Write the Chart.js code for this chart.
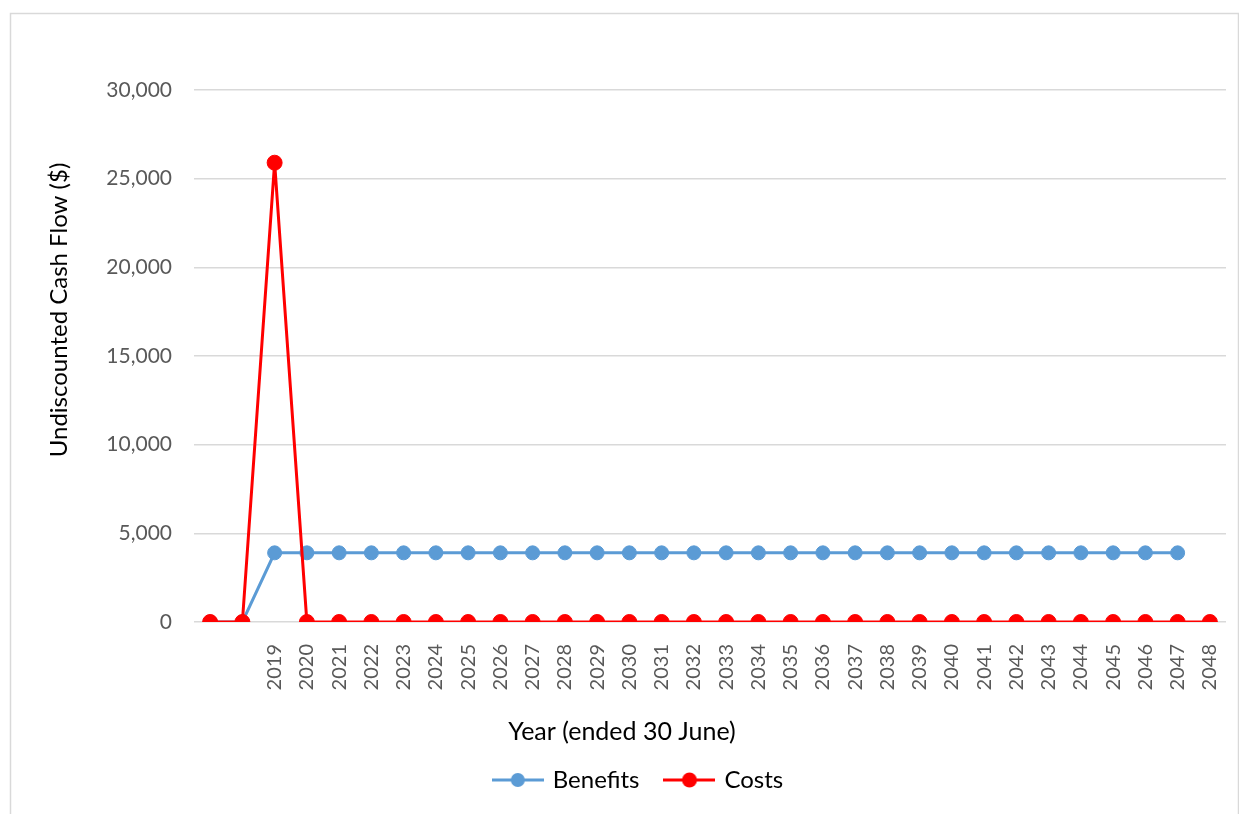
<!DOCTYPE html>
<html>
<head>
<meta charset="utf-8">
<title>Undiscounted Cash Flow</title>
<script src="https://cdn.jsdelivr.net/npm/chart.js@4.4.1/dist/chart.umd.min.js"></script>
<style>
  html, body { margin: 0; padding: 0; background: #ffffff; }
  #wrap { position: relative; width: 1239px; height: 814px; }
</style>
</head>
<body>
<div id="wrap"><canvas id="chart" width="1239" height="814"></canvas></div>
<script>
// Years ended 30 June; the first two periods carry no year label
const years = ['', '', '2019', '2020', '2021', '2022', '2023', '2024', '2025', '2026',
  '2027', '2028', '2029', '2030', '2031', '2032', '2033', '2034', '2035', '2036',
  '2037', '2038', '2039', '2040', '2041', '2042', '2043', '2044', '2045', '2046',
  '2047', '2048'];

const benefits = [0, 0, 3900, 3900, 3900, 3900, 3900, 3900, 3900, 3900,
  3900, 3900, 3900, 3900, 3900, 3900, 3900, 3900, 3900, 3900,
  3900, 3900, 3900, 3900, 3900, 3900, 3900, 3900, 3900, 3900,
  3900, null];

const costs = [0, 0, 25900, 0, 0, 0, 0, 0, 0, 0,
  0, 0, 0, 0, 0, 0, 0, 0, 0, 0,
  0, 0, 0, 0, 0, 0, 0, 0, 0, 0,
  0, 0];

const yTicks = [0, 5000, 10000, 15000, 20000, 25000, 30000];

const FONT = 'Lato, "Open Sans", sans-serif';
const BLUE = '#5B9BD5';
const RED = '#FF0000';

// Legend marker: short line with a dot in the middle
function lineMarker(color, r) {
  const c = document.createElement('canvas');
  c.width = 52; c.height = 18;
  const g = c.getContext('2d');
  g.strokeStyle = color; g.lineWidth = 3;
  g.beginPath(); g.moveTo(0, 9); g.lineTo(52, 9); g.stroke();
  g.fillStyle = color;
  g.beginPath(); g.arc(26, 9, r, 0, Math.PI * 2); g.fill();
  return c;
}
const markers = [lineMarker(BLUE, 7), lineMarker(RED, 7.5)];

// Outer frame, y-axis title and legend placement
const decor = {
  id: 'decor',
  afterLayout(chart) {
    const lg = chart.legend;
    lg.left += 17;
    lg.right += 17;
    const h = lg.bottom - lg.top;
    lg.top = 741;
    lg.bottom = 741 + h;
  },
  beforeDraw(chart) {
    const ctx = chart.ctx;
    ctx.save();
    ctx.strokeStyle = '#d9d9d9';
    ctx.lineWidth = 1.5;
    ctx.strokeRect(10.5, 13.5, 1228, 820);
    ctx.restore();
  },
  afterDraw(chart) {
    const ctx = chart.ctx;
    ctx.save();
    ctx.translate(59, 310);
    ctx.rotate(-Math.PI / 2);
    ctx.font = '24px ' + FONT;
    ctx.fillStyle = '#000000';
    ctx.textAlign = 'center';
    ctx.textBaseline = 'middle';
    ctx.fillText('Undiscounted Cash Flow ($)', 0, 0);
    ctx.restore();
  }
};

new Chart(document.getElementById('chart'), {
  type: 'line',
  data: {
    labels: years,
    datasets: [
      {
        label: 'Benefits',
        data: benefits,
        borderColor: BLUE,
        backgroundColor: BLUE,
        pointBackgroundColor: BLUE,
        pointBorderColor: BLUE,
        pointStyle: 'circle',
        pointRadius: 7,
        pointBorderWidth: 1,
        borderWidth: 3,
        tension: 0,
        spanGaps: false,
        order: 2
      },
      {
        label: 'Costs',
        data: costs,
        borderColor: RED,
        backgroundColor: RED,
        pointBackgroundColor: RED,
        pointBorderColor: RED,
        pointStyle: 'circle',
        pointRadius: 7.5,
        pointBorderWidth: 1,
        borderWidth: 3,
        tension: 0,
        order: 1
      }
    ]
  },
  options: {
    responsive: false,
    animation: false,
    layout: { padding: { top: 90, left: 18, right: 13, bottom: 6 } },
    scales: {
      x: {
        offset: true,
        grid: { display: false },
        border: { display: false },
        ticks: {
          color: '#595959',
          font: { family: FONT, size: 20 },
          minRotation: 90,
          maxRotation: 90,
          autoSkip: false,
          padding: 14
        },
        afterFit(scale) {
          scale.height = 70;
          scale.paddingLeft = 0;
          scale.paddingRight = 0;
        }
      },
      y: {
        min: 0,
        max: 30000,
        afterBuildTicks(scale) { scale.ticks = yTicks.map(v => ({ value: v })); },
        grid: { color: '#d9d9d9', lineWidth: 1.5, drawTicks: false },
        border: { display: false },
        ticks: {
          color: '#595959',
          font: { family: FONT, size: 21 },
          padding: 22,
          callback: v => Number(v).toLocaleString('en-US')
        },
        afterFit(scale) {
          scale.width = 176;
          scale.paddingTop = 0;
          scale.paddingBottom = 0;
        }
      }
    },
    plugins: {
      tooltip: { enabled: false },
      title: {
        display: true,
        position: 'bottom',
        weight: 500,
        text: 'Year (ended 30 June)',
        color: '#000000',
        font: { family: FONT, size: 25, weight: 'normal' },
        padding: { top: 25, bottom: 0 }
      },
      legend: {
        position: 'bottom',
        labels: {
          color: '#000000',
          font: { family: FONT, size: 24 },
          usePointStyle: true,
          pointStyleWidth: 46,
          padding: 27,
          sort: (a, b) => a.datasetIndex - b.datasetIndex,
          generateLabels(chart) {
            const items = Chart.defaults.plugins.legend.labels.generateLabels(chart);
            items.forEach(it => { it.pointStyle = markers[it.datasetIndex]; });
            return items;
          }
        }
      }
    }
  },
  plugins: [decor]
});
</script>
</body>
</html>
